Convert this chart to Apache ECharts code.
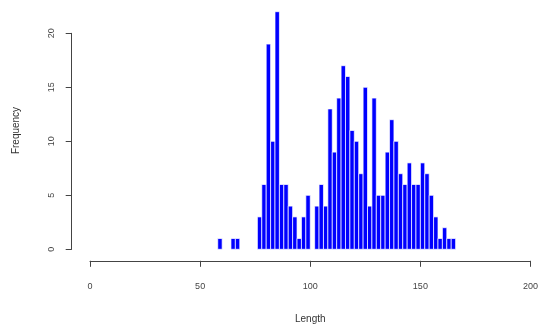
<!DOCTYPE html>
<html>
<head>
<meta charset="utf-8">
<script src="https://cdn.jsdelivr.net/npm/echarts@6/dist/echarts.min.js"></script>
<style>
  html, body { margin: 0; padding: 0; background: #fff; }
  #chart { width: 543px; height: 330px; }
</style>
</head>
<body>
<div id="chart"></div>
<script>
// histogram of Length, bins of width 2 (left edge of each bin)
const binWidth = 2;
const binStarts = [58, 64, 66,
  76, 78, 80, 82, 84, 86, 88, 90, 92, 94, 96, 98,
  102, 104, 106, 108, 110, 112, 114, 116, 118, 120, 122, 124, 126, 128, 130,
  132, 134, 136, 138, 140, 142, 144, 146, 148, 150, 152, 154, 156, 158, 160,
  162, 164];
const counts = [1, 1, 1,
  3, 6, 19, 10, 22, 6, 6, 4, 3, 1, 3, 5,
  4, 6, 4, 13, 9, 14, 17, 16, 11, 10, 7, 15, 4, 14, 5,
  5, 9, 12, 10, 7, 6, 8, 6, 6, 8, 7, 5, 3, 1, 2,
  1, 1];
const xTicks = [0, 200, 50];   // min, max, step
const yTicks = [0, 20, 5];

const chart = echarts.init(document.getElementById('chart'), null, { renderer: 'canvas' });

const font = 'Liberation Sans, Arial, sans-serif';
const axisColor = '#444';

chart.setOption({
  animation: false,
  grid: [
    // plot region (data extends above the last labelled tick)
    { left: 90, right: 12.5, top: 11.7, bottom: 80.7 },
    // region for the R-style y axis, 0..20 only
    { left: 90, right: 12.5, top: 33.3, bottom: 80.7 }
  ],
  xAxis: [
    {
      type: 'value', gridIndex: 0,
      min: xTicks[0], max: xTicks[1], interval: xTicks[2],
      offset: 11.5,
      name: 'Length', nameLocation: 'middle', nameGap: 53,
      nameTextStyle: { fontFamily: font, fontSize: 10, color: '#333' },
      axisLine: { show: true, onZero: false, lineStyle: { color: axisColor, width: 1 } },
      axisTick: { show: true, length: 6, lineStyle: { color: axisColor } },
      axisLabel: { margin: 21, fontFamily: font, fontSize: 9, color: '#444' },
      splitLine: { show: false }
    },
    { type: 'value', gridIndex: 1, min: xTicks[0], max: xTicks[1], show: false }
  ],
  yAxis: [
    {
      type: 'value', gridIndex: 0, min: 0, max: 22,
      name: 'Frequency', nameLocation: 'middle', nameGap: 69,
      nameTextStyle: { fontFamily: font, fontSize: 10, color: '#333' },
      axisLine: { show: false, onZero: false }, axisTick: { show: false },
      axisLabel: { show: false }, splitLine: { show: false }
    },
    {
      type: 'value', gridIndex: 1,
      min: yTicks[0], max: yTicks[1], interval: yTicks[2],
      offset: 18.3,
      axisLine: { show: true, onZero: false, lineStyle: { color: axisColor, width: 1 } },
      axisTick: { show: true, length: 6, lineStyle: { color: axisColor } },
      axisLabel: { rotate: 90, margin: 16, fontFamily: font, fontSize: 9, color: '#444' },
      splitLine: { show: false }
    }
  ],
  series: [{
    type: 'custom',
    xAxisIndex: 0, yAxisIndex: 0,
    data: binStarts.map((s, i) => [s, counts[i]]),
    renderItem: function (params, api) {
      const x0 = api.value(0);
      const n = api.value(1);
      const p0 = api.coord([x0, n]);
      const p1 = api.coord([x0 + binWidth, 0]);
      return {
        type: 'rect',
        shape: { x: p0[0], y: p0[1], width: p1[0] - p0[0], height: p1[1] - p0[1] },
        style: { fill: '#0000ff', stroke: '#ffffff', lineWidth: 0.7 }
      };
    }
  }]
});
</script>
</body>
</html>
